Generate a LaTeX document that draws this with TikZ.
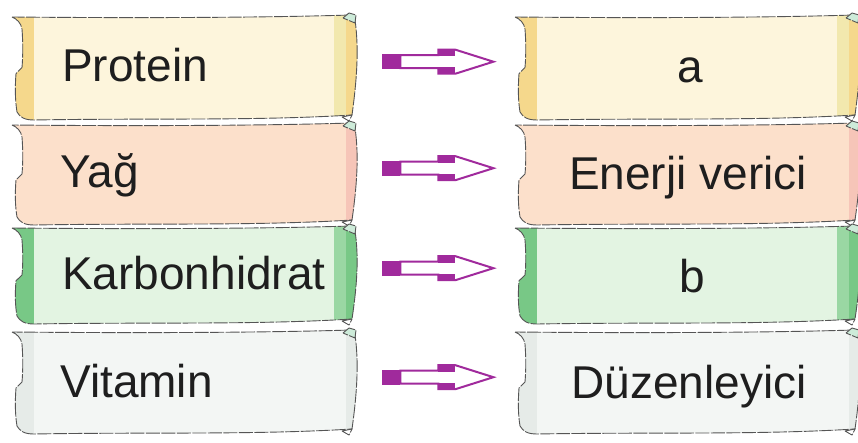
\documentclass[tikz,border=0pt]{standalone}
\usepackage{fontspec}
\setmainfont{Liberation Sans}
\usetikzlibrary{calc}
\definecolor{purp}{HTML}{A02A9C}
\definecolor{creamfill}{HTML}{FDF5DC}
\definecolor{creamstripe}{HTML}{F5D88C}
\definecolor{creamlight}{HTML}{F2E8AE}
\definecolor{peachfill}{HTML}{FCE0CB}
\definecolor{peachstripe}{HTML}{F6C5B8}
\definecolor{greenfill}{HTML}{E3F4E2}
\definecolor{greenstripe}{HTML}{78C886}
\definecolor{greenlight}{HTML}{9AD7A3}
\definecolor{greyfill}{HTML}{F3F6F4}
\definecolor{greystripe}{HTML}{E6EBE8}
\definecolor{mint}{HTML}{CDEBD9}
\definecolor{inkline}{HTML}{555555}
\definecolor{inktext}{HTML}{1E1E1E}

\newcommand{\scrollpath}[2]{%
 (0,0) .. controls (5,2) and (9,6) .. (10,12)
 .. controls (11,25) and (11,{#2*0.38}) .. (10,{#2*0.49})
 -- (4,{#2*0.55})
 .. controls (3,{#2*0.68}) and (3,{#2*0.8}) .. (5,{#2-8})
 .. controls (8,{#2-3}) and (12,#2) .. (22,#2)
 .. controls ({#1*0.4},{#2-2}) and ({#1*0.7},{#2+1}) .. ({#1-6},{#2-5})
 .. controls ({#1-1},{#2*0.6}) and ({#1+1},{#2*0.3}) .. ({#1-3},3)
 -- ({#1-7},-2)
 .. controls ({#1*0.7},1) and ({#1*0.3},1) .. (0,0) -- cycle}

% node, W, H, fill, left stripe, right inner, right outer
\newcommand{\drawscroll}[7]{%
 \begin{scope}[shift={(#1.north west)}]
  \fill[#4] \scrollpath{#2}{#3};
  \begin{scope}
   \clip \scrollpath{#2}{#3};
   \fill[#5] (-5,-5) rectangle (22,{#3+5});
   \fill[#6] ({#2-24},-5) rectangle ({#2+5},{#3+5});
   \fill[#7] ({#2-12},-5) rectangle ({#2+5},{#3+5});
  \end{scope}
  \draw[scrolline] \scrollpath{#2}{#3};
  \filldraw[fill=mint, scrolline] ({#2-15},1) -- ({#2-9},-4) -- ({#2-2},-2) -- ({#2-3},6) -- cycle;
  \filldraw[fill=white, scrolline] ({#2-16},{#3-3}) -- ({#2-6},{#3-5}) -- ({#2-9},{#3+1}) -- cycle;
 \end{scope}}

\tikzset{
 scrolline/.style={draw=inkline, line width=0.9pt, dash pattern=on 14pt off 1.5pt, line join=round},
 bannerbox/.style={draw=none, inner sep=0pt, anchor=north west},
 lbl/.style={font=\fontsize{46}{55}\selectfont, text=inktext, inner sep=0pt},
 harrow/.pic={
  \draw[purp, line width=2pt, fill=white, line join=miter]
   (18,-6.5) -- (56,-6.5) -- (56,-12) -- (73,-12) -- (111,0) -- (73,12) -- (56,12) -- (56,6.5) -- (18,6.5) -- cycle;
  \fill[purp] (0,-7.5) rectangle (18,7.5);
  \fill[purp] (56,-12.8) rectangle (73,-5.6);
  \fill[purp] (56,5.6) rectangle (73,12.8);
 }
}

\begin{document}
\begin{tikzpicture}[x=1pt, y=-1pt]
\useasboundingbox (0,0) rectangle (858,443);
\fill[white] (0,0) rectangle (858,443);

% banner frames
\node[bannerbox, minimum width=346pt, minimum height=103pt] (L1) at (12,17) {};
\node[bannerbox, minimum width=346pt, minimum height=100pt] (L2) at (12,125) {};
\node[bannerbox, minimum width=346pt, minimum height=96pt] (L3) at (12,228) {};
\node[bannerbox, minimum width=346pt, minimum height=102pt] (L4) at (12,332) {};
\node[bannerbox, minimum width=346pt, minimum height=103pt] (R1) at (515,17) {};
\node[bannerbox, minimum width=346pt, minimum height=100pt] (R2) at (515,125) {};
\node[bannerbox, minimum width=346pt, minimum height=96pt] (R3) at (515,228) {};
\node[bannerbox, minimum width=346pt, minimum height=102pt] (R4) at (515,332) {};

\drawscroll{L1}{346}{103}{creamfill}{creamstripe}{creamlight}{creamstripe}
\drawscroll{L2}{346}{100}{peachfill}{peachfill}{peachfill}{peachstripe}
\drawscroll{L3}{346}{96}{greenfill}{greenstripe}{greenlight}{greenstripe}
\drawscroll{L4}{346}{102}{greyfill}{greystripe}{greyfill}{greystripe}
\drawscroll{R1}{346}{103}{creamfill}{creamstripe}{creamlight}{creamstripe}
\drawscroll{R2}{346}{100}{peachfill}{peachfill}{peachfill}{peachstripe}
\drawscroll{R3}{346}{96}{greenfill}{greenstripe}{greenlight}{greenstripe}
\drawscroll{R4}{346}{102}{greyfill}{greystripe}{greyfill}{greystripe}

% labels
\node[lbl, anchor=base west] (t1) at (62,82) {Protein};
\node[lbl, anchor=base west] (t2) at (60,188) {Yağ};
\node[lbl, anchor=base west] (t3) at (62,290) {Karbonhidrat};
\node[lbl, anchor=base west] (t4) at (60,397) {Vitamin};
\node[lbl, anchor=base] (u1) at (690,83) {a};
\node[lbl, anchor=base] (u2) at (688,190) {Enerji verici};
\node[lbl, anchor=base] (u3) at (692,292) {b};
\node[lbl, anchor=base] (u4) at (689,398) {Düzenleyici};

% arrows
\pic at ($(L1.east)+(24,-7)$) {harrow};
\pic at ($(L2.east)+(24,-7)$) {harrow};
\pic at ($(L3.east)+(24,-8)$) {harrow};
\pic at ($(L4.east)+(24,-6)$) {harrow};
\end{tikzpicture}
\end{document}
